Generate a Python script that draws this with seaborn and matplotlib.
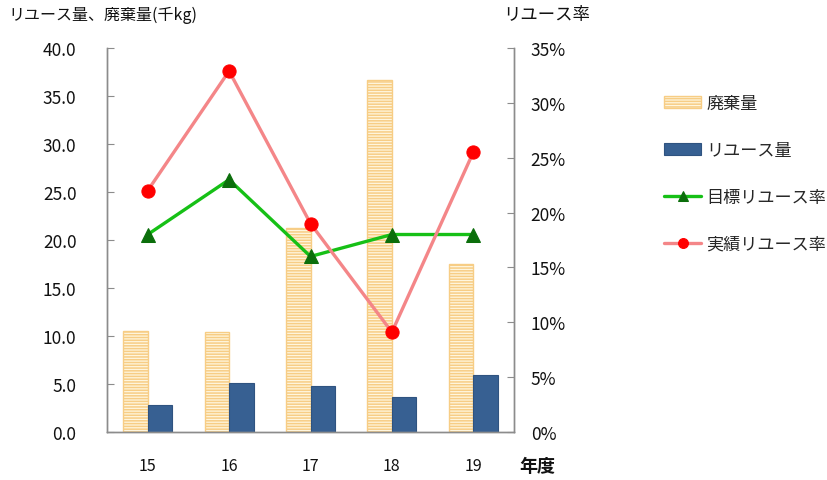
import numpy as np
import pandas as pd
import matplotlib
matplotlib.use("Agg")
import matplotlib.pyplot as plt
from matplotlib.ticker import FuncFormatter, MultipleLocator, FixedLocator
import seaborn as sns

# ---- data ----
years = ["15", "16", "17", "18", "19"]
waste = [10.5, 10.4, 21.2, 36.7, 17.5]          # 廃棄量 (千kg)
reuse = [2.8, 5.1, 4.8, 3.6, 5.9]               # リユース量 (千kg)
target_rate = [18.0, 23.0, 16.0, 18.0, 18.0]    # 目標リユース率 (%)
actual_rate = [22.0, 32.9, 19.0, 9.1, 25.5]     # 実績リユース率 (%)

series_names = ["廃棄量", "リユース量"]
line_names = ["目標リユース率", "実績リユース率"]

sns.set_style("white")
plt.rcParams["font.family"] = ["Noto Sans CJK JP", "DejaVu Sans"]
plt.rcParams["hatch.linewidth"] = 1.1
plt.rcParams["hatch.color"] = "#F7CD85"

df = pd.DataFrame({
    "year": years * 2,
    "value": waste + reuse,
    "kind": [series_names[0]] * len(years) + [series_names[1]] * len(years),
})

fig = plt.figure(figsize=(8.27, 4.81), dpi=100)
ax = fig.add_axes([107 / 827, 1 - 433 / 481, (514 - 107) / 827, (433 - 49) / 481])

sns.barplot(data=df, x="year", y="value", hue="kind", hue_order=series_names,
            order=years, palette=["#FFF6DE", "#376092"], width=0.6, gap=0,
            legend=False, ax=ax, saturation=1)

waste_bars = ax.containers[0]
reuse_bars = ax.containers[1]
for p in waste_bars:
    p.set_hatch("------")
    p.set_edgecolor("#F7CD85")
    p.set_linewidth(1.0)
for p in reuse_bars:
    p.set_edgecolor("#2F5380")
    p.set_linewidth(0.8)

ax.set_ylim(0, 40)
ax.set_xlim(-0.5, 4.5)
ax.yaxis.set_major_locator(MultipleLocator(5))
ax.yaxis.set_major_formatter(FuncFormatter(lambda v, p: f"{v:.1f}"))
ax.set_xlabel("")
ax.set_ylabel("")

ax2 = ax.twinx()
pos = np.arange(len(years))
sns.lineplot(x=pos, y=target_rate, ax=ax2, color="#16C016", lw=2.4,
             marker="^", markersize=9.5, markerfacecolor="#0B6E0B",
             markeredgecolor="#0B6E0B", label=line_names[0], legend=False)
sns.lineplot(x=pos, y=actual_rate, ax=ax2, color="#F48688", lw=2.4,
             marker="o", markersize=9.5, markerfacecolor="#FF0000",
             markeredgecolor="#FF0000", label=line_names[1], legend=False)
ax2.set_ylim(0, 35)
ax2.yaxis.set_major_locator(MultipleLocator(5))
ax2.yaxis.set_major_formatter(FuncFormatter(lambda v, p: f"{v:.0f}%"))
ax2.set_xlim(-0.5, 4.5)

spine_col = "#8C8C8C"
for a in (ax, ax2):
    a.spines["top"].set_visible(False)
    for s in ("left", "right", "bottom"):
        a.spines[s].set_color(spine_col)
        a.spines[s].set_linewidth(1.0)

ax.tick_params(axis="y", direction="in", length=5, color=spine_col,
               labelsize=12.5, pad=22, labelcolor="#111111")
ax2.tick_params(axis="y", direction="in", length=5, color=spine_col,
                labelsize=12.5, pad=12, labelcolor="#111111")
ax.xaxis.set_major_locator(FixedLocator(pos))
ax.set_xticklabels(years)
ax.tick_params(axis="x", which="major", length=0, labelsize=11.5, pad=18,
               labelcolor="#111111")
ax.xaxis.set_minor_locator(FixedLocator(pos[:-1] + 0.5))
ax.tick_params(axis="x", which="minor", direction="in", length=5, color=spine_col)

fig.text(8 / 827, 1 - 15 / 481, "リユース量、廃棄量(千kg)", fontsize=11.5,
         ha="left", va="center", color="#111111")
fig.text(547 / 827, 1 - 15 / 481, "リユース率", fontsize=12.5,
         ha="center", va="center", color="#111111")
fig.text(537 / 827, 1 - 466 / 481, "年度", fontsize=13, ha="center", va="center",
         color="#111111", fontweight="bold")

handles = [waste_bars.patches[0], reuse_bars.patches[0]] + ax2.get_lines()[:2]
fig.legend(handles, series_names + line_names, loc="upper left",
           bbox_to_anchor=(657 / 827, 1 - 88 / 481), frameon=False,
           fontsize=12.3, labelspacing=1.7, handlelength=2.2, handletextpad=0.3,
           borderaxespad=0, markerscale=0.75)

fig.savefig("out.png", dpi=100)
